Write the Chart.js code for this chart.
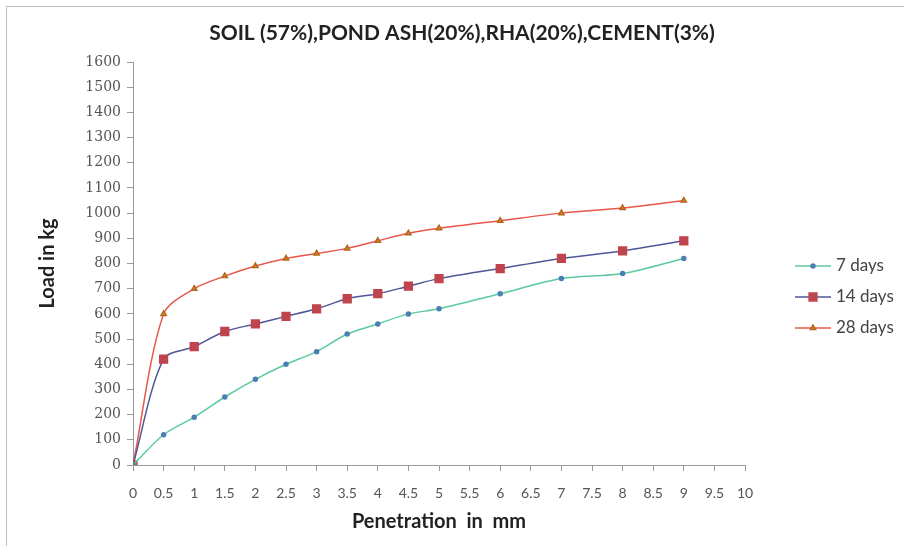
<!DOCTYPE html>
<html>
<head>
<meta charset="utf-8">
<script src="https://cdn.jsdelivr.net/npm/chart.js@4"></script>
<style>
  html, body { margin: 0; padding: 0; background: #fff; }
  #wrap { position: relative; width: 904px; height: 546px; }
  #frame { position: absolute; left: 6px; top: 6px; right: 0; bottom: 0; border: 1px solid #bfbfbf; border-right: none; border-bottom: none; }
  canvas { position: absolute; left: 0; top: 0; }
</style>
</head>
<body>
<div id="wrap">
  <div id="frame"></div>
  <canvas id="cbrChart" width="904" height="546"></canvas>
</div>
<script>
// ── Data ── //
const penetration = [0, 0.5, 1, 1.5, 2, 2.5, 3, 3.5, 4, 4.5, 5, 6, 7, 8, 9];
const load7 = [0, 120, 190, 270, 340, 400, 450, 520, 560, 600, 620, 680, 740, 760, 820];
const load14 = [0, 420, 470, 530, 560, 590, 620, 660, 680, 710, 740, 780, 820, 850, 890];
const load28 = [0, 600, 700, 750, 790, 820, 840, 860, 890, 920, 940, 970, 1000, 1020, 1050];
const seriesNames = ['7 days', '14 days', '28 days'];
const chartTitle = 'SOIL (57%),POND ASH(20%),RHA(20%),CEMENT(3%)';

const FONT = 'Lato, "Open Sans", sans-serif';
const toXY = (ys) => penetration.map((x, i) => ({ x: x, y: ys[i] }));

// ── Title centred on the whole picture ── //
const topTitle = {
  id: 'topTitle',
  afterDraw(chart) {
    const c = chart.ctx;
    c.save();
    c.font = 'bold 21px ' + FONT;
    c.fillStyle = '#222';
    c.textAlign = 'center';
    c.textBaseline = 'middle';
    c.fillText(chartTitle, 462, 33);
    c.restore();
  }
};

// ── Legend with line + marker, drawn to the right of the plot ── //
const sideLegend = {
  id: 'sideLegend',
  afterDraw(chart) {
    const c = chart.ctx;
    const x0 = 795;
    const y0 = 266;
    const gap = 31;
    chart.data.datasets.forEach((ds, i) => {
      const y = y0 + i * gap;
      c.save();
      c.strokeStyle = ds.borderColor;
      c.lineWidth = 1.5;
      c.beginPath();
      c.moveTo(x0, y);
      c.lineTo(x0 + 36, y);
      c.stroke();
      c.fillStyle = ds.pointBackgroundColor;
      c.strokeStyle = ds.pointBorderColor;
      Chart.helpers.drawPoint(c, {
        pointStyle: ds.pointStyle,
        radius: ds.pointRadius,
        borderWidth: 1
      }, x0 + 18, y);
      c.font = '17px ' + FONT;
      c.fillStyle = '#444';
      c.textBaseline = 'middle';
      c.fillText(ds.label, x0 + 41, y);
      c.restore();
    });
  }
};

new Chart(document.getElementById('cbrChart'), {
  type: 'line',
  data: {
    datasets: [
      {
        label: seriesNames[0],
        data: toXY(load7),
        borderColor: '#5ccaa0',
        backgroundColor: '#4a7fb5',
        pointBackgroundColor: '#4a7fb5',
        pointBorderColor: '#4a7fb5',
        pointStyle: 'circle',
        pointRadius: 2,
        borderWidth: 1.5,
        tension: 0.3
      },
      {
        label: seriesNames[1],
        data: toXY(load14),
        borderColor: '#4e5698',
        backgroundColor: '#c0444d',
        pointBackgroundColor: '#c0444d',
        pointBorderColor: '#c0444d',
        pointStyle: 'rect',
        pointRadius: 5.5,
        borderWidth: 1.5,
        tension: 0.3
      },
      {
        label: seriesNames[2],
        data: toXY(load28),
        borderColor: '#e8574a',
        backgroundColor: '#d98a2b',
        pointBackgroundColor: '#d98a2b',
        pointBorderColor: '#b5651d',
        pointStyle: 'triangle',
        pointRadius: 3,
        borderWidth: 1.5,
        tension: 0.3
      }
    ]
  },
  options: {
    responsive: false,
    animation: false,
    layout: { padding: { left: 36, right: 159, top: 62, bottom: 12 } },
    scales: {
      x: {
        type: 'linear',
        min: 0,
        max: 10,
        afterFit: (scale) => { scale.height = 69; },
        grid: { display: true, drawOnChartArea: false, drawTicks: true, tickLength: 6, color: '#9a9a9a' },
        border: { display: true, color: '#9a9a9a' },
        ticks: {
          stepSize: 0.5,
          autoSkip: false,
          maxRotation: 0,
          color: '#555',
          font: { family: FONT, size: 14 },
          padding: 14,
          callback: (v) => String(v)
        },
        title: {
          display: true,
          text: 'Penetration  in  mm',
          color: '#222',
          font: { family: FONT, size: 20, weight: 'bold' },
          padding: { top: 4, bottom: 0 }
        }
      },
      y: {
        min: 0,
        max: 1600,
        afterFit: (scale) => { scale.width = 97; },
        grid: { display: true, drawOnChartArea: false, drawTicks: true, tickLength: 6, color: '#9a9a9a' },
        border: { display: true, color: '#9a9a9a' },
        ticks: {
          stepSize: 100,
          color: '#555',
          font: { family: '"DejaVu Serif", serif', size: 14 },
          padding: 6,
          callback: (v) => String(v)
        },
        title: {
          display: true,
          text: 'Load in kg',
          color: '#222',
          font: { family: FONT, size: 20, weight: 'bold' },
          padding: { top: 0, bottom: 0 }
        }
      }
    },
    plugins: {
      legend: { display: false },
      tooltip: { enabled: false },
      title: { display: false }
    }
  },
  plugins: [topTitle, sideLegend]
});
</script>
</body>
</html>
